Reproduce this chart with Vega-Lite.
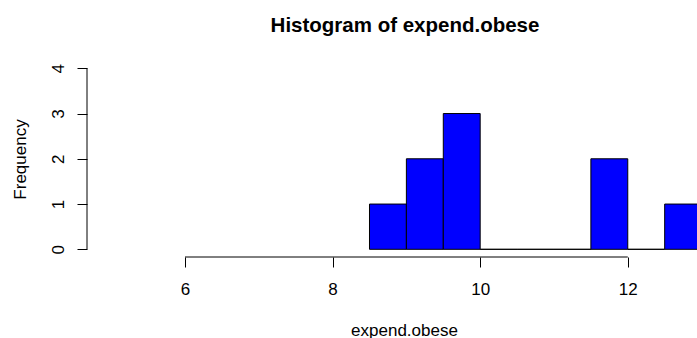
{
  "$schema": "https://vega.github.io/schema/vega-lite/v6.json",
  "width": 610,
  "height": 196,
  "autosize": {"type": "none"},
  "padding": {"left": 87, "top": 61, "right": 0, "bottom": 81},
  "background": "white",
  "title": {
    "text": "Histogram of expend.obese",
    "font": "Liberation Sans",
    "fontSize": 20.5,
    "fontWeight": "bold",
    "color": "black",
    "anchor": "middle",
    "baseline": "alphabetic",
    "offset": 9,
    "dx": 13
  },
  "config": {
    "view": {"stroke": null},
    "font": "Liberation Sans",
    "axis": {
      "domain": false,
      "grid": false,
      "tickColor": "black",
      "tickSize": 10,
      "tickWidth": 1,
      "labelColor": "black",
      "labelFont": "Liberation Sans",
      "labelFontSize": 17,
      "titleColor": "black",
      "titleFont": "Liberation Sans",
      "titleFontSize": 17,
      "titleFontWeight": "normal"
    }
  },
  "layer": [
    {
      "data": {
        "values": [
          {"bin_start": 8.5, "bin_end": 9.0, "count": 1},
          {"bin_start": 9.0, "bin_end": 9.5, "count": 2},
          {"bin_start": 9.5, "bin_end": 10.0, "count": 3},
          {"bin_start": 10.0, "bin_end": 10.5, "count": 0},
          {"bin_start": 10.5, "bin_end": 11.0, "count": 0},
          {"bin_start": 11.0, "bin_end": 11.5, "count": 0},
          {"bin_start": 11.5, "bin_end": 12.0, "count": 2},
          {"bin_start": 12.0, "bin_end": 12.5, "count": 0},
          {"bin_start": 12.5, "bin_end": 13.0, "count": 1}
        ]
      },
      "mark": {"type": "bar", "fill": "#0000FF", "stroke": "black", "strokeWidth": 1, "clip": true},
      "encoding": {
        "x": {
          "field": "bin_start",
          "type": "quantitative",
          "scale": {"domain": [4.672, 12.938], "nice": false, "zero": false},
          "axis": {
            "values": [6, 8, 10, 12],
            "format": "d",
            "title": "expend.obese",
            "labelPadding": 14,
            "titleX": 317,
            "titleY": 78,
            "titleAlign": "center",
            "titleBaseline": "alphabetic",
            "titleAnchor": null
          }
        },
        "x2": {"field": "bin_end"},
        "y": {
          "field": "count",
          "type": "quantitative",
          "scale": {"domain": [-0.17, 4.161], "nice": false, "zero": false},
          "axis": {
            "values": [0, 1, 2, 3, 4],
            "format": "d",
            "title": "Frequency",
            "labelAngle": 270,
            "labelAlign": "center",
            "labelBaseline": "alphabetic",
            "labelPadding": 14,
            "titleAngle": 270,
            "titleX": -62,
            "titleY": 98,
            "titleAlign": "center",
            "titleBaseline": "alphabetic",
            "titleAnchor": null
          }
        },
        "y2": {"datum": 0}
      }
    },
    {
      "data": {"values": [{}]},
      "mark": {"type": "rule", "color": "black", "strokeWidth": 1},
      "encoding": {
        "x": {"datum": 6},
        "x2": {"datum": 12},
        "y": {"datum": -0.17}
      }
    },
    {
      "data": {"values": [{}]},
      "mark": {"type": "rule", "color": "black", "strokeWidth": 1},
      "encoding": {
        "x": {"datum": 4.672},
        "y": {"datum": 0},
        "y2": {"datum": 4}
      }
    }
  ]
}
